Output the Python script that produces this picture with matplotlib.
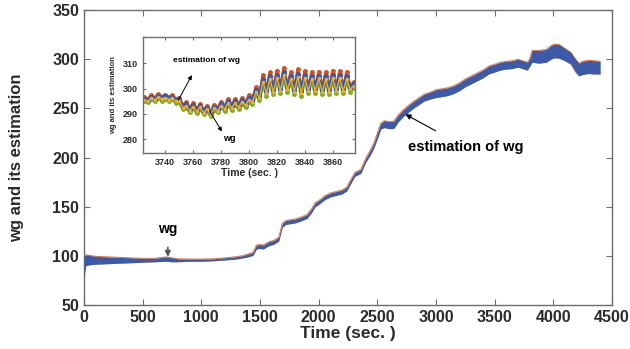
import matplotlib.pyplot as plt
import numpy as np

plt.rcParams['font.family'] = ['Liberation Sans', 'DejaVu Sans']
plt.rcParams['font.weight'] = 'bold'

blue = '#3D5AA8'
red = '#D95319'
yellow = '#EDB120'
green = '#77AC30'
axcol = '#6e6e6e'
txtcol = '#2b2b2b'

# full run: upper and lower edge of the wg / estimation band
t_main = [0, 15, 50, 100, 200, 300, 400, 500, 600, 700, 750, 800, 900, 1000, 1100,
          1200, 1300, 1350, 1400, 1440, 1470, 1500, 1530, 1570, 1620, 1660, 1690,
          1720, 1800, 1860, 1900, 1940, 1970, 2010, 2050, 2100, 2150, 2200, 2240,
          2280, 2310, 2360, 2400, 2440, 2470, 2500, 2530, 2560, 2600, 2640, 2680,
          2720, 2760, 2800, 2850, 2900, 2950, 3000, 3050, 3100, 3150, 3200, 3250,
          3300, 3350, 3400, 3450, 3500, 3550, 3600, 3650, 3700, 3750, 3780, 3800,
          3820, 3880, 3940, 3980, 4010, 4050, 4100, 4150, 4190, 4220, 4250, 4300,
          4350, 4400]
band_lo = [78, 90, 91, 91.5, 92, 92.5, 93, 93.5, 94, 94.5, 94, 94, 94.5, 94.5, 95,
           95.8, 96.8, 97.8, 99, 100.5, 107, 107.5, 107, 110, 112, 115, 129,
           132, 133.5, 136, 138, 144, 150, 153, 157, 160, 161.5, 163, 166,
           175, 181, 184, 195, 202.5, 209.5, 219, 229, 230.5, 229.5, 229.5, 236.5,
           241.5, 245.5, 249.5, 253.5, 257.5, 259.5, 261, 262, 263, 265, 268, 272,
           275, 278, 281, 285, 287, 289, 290, 290.5, 292, 290, 289, 293,
           297, 296, 297, 300, 301.5, 301, 298.5, 295, 287, 283, 284.5, 285.5,
           285, 285]
band_hi = [99, 101, 100.5, 99.5, 99, 98.5, 98, 97.5, 97.5, 99, 98, 97, 96.8, 96.8, 97,
           98, 99.2, 100.2, 102, 103.5, 111, 111.5, 111, 114, 116, 119, 133,
           136, 137.5, 140, 142, 148, 154, 157, 161, 164, 165.5, 167, 170,
           179, 185, 188, 199, 207.5, 214.5, 225, 235, 237.5, 236.5, 237, 243.5,
           248.5, 252.5, 256.5, 260.5, 264.5, 266.5, 269, 270, 271, 273, 276, 280,
           283, 286, 289, 293, 295, 297, 298, 298.5, 300, 298, 297, 301,
           309, 309, 310, 314, 315.5, 315, 311, 307, 300, 296, 298, 299,
           298.5, 298]

# zoomed window 3725-3875 s
t_zoom = [3725 + 2.5 * i for i in range(61)]
wg_zoom = [296.0, 295.5, 296.8, 296.0, 297.2, 296.4, 297.0, 296.2, 296.8, 295.5,
           295.8, 293.0, 293.8, 291.8, 293.5, 291.5, 293.2, 291.0, 292.5, 290.2,
           292.8, 291.8, 294.0, 292.5, 295.0, 293.0, 295.0, 293.2, 295.5, 294.0,
           296.5, 295.5, 299.5, 297.0, 304.0, 299.0, 305.0, 299.5, 305.5, 300.0,
           306.5, 300.5, 305.0, 299.5, 306.0, 299.0, 305.5, 300.0, 305.0, 300.0,
           305.2, 299.5, 305.0, 299.5, 305.5, 300.0, 305.5, 299.8, 305.0, 300.5,
           302.0]
est_red = [296.6, 295.9, 297.4, 296.4, 297.8, 296.8, 297.6, 296.6, 297.4, 295.9,
           296.5, 293.4, 294.6, 292.2, 294.3, 291.9, 294.0, 291.4, 293.3, 290.6,
           293.6, 292.2, 294.8, 292.9, 295.8, 293.4, 295.8, 293.6, 296.3, 294.4,
           297.4, 295.9, 300.6, 297.4, 305.4, 299.4, 306.5, 299.9, 307.2, 300.4,
           308.3, 300.9, 306.6, 299.9, 307.7, 299.4, 307.1, 300.4, 306.6, 300.4,
           306.8, 299.9, 306.7, 299.9, 307.2, 300.4, 307.0, 300.2, 306.6, 300.9,
           302.6]
est_yellow = [295.6, 295.0, 296.3, 295.5, 296.7, 295.9, 296.5, 295.7, 296.3, 295.0,
              295.2, 292.5, 293.2, 291.3, 292.9, 291.0, 292.6, 290.5, 291.9, 289.7,
              292.2, 291.3, 293.3, 292.0, 294.3, 292.4, 294.3, 292.6, 294.8, 293.4,
              295.7, 294.8, 298.6, 296.3, 302.8, 298.2, 303.8, 298.7, 304.4, 299.2,
              305.3, 299.7, 303.9, 298.7, 304.8, 298.2, 304.4, 299.2, 303.9, 299.2,
              304.1, 298.7, 303.9, 298.7, 304.4, 299.2, 304.4, 299.0, 303.9, 299.7,
              301.2]
est_green = [295.2, 294.6, 295.8, 295.0, 296.2, 295.3, 296.0, 295.1, 295.8, 294.4,
             294.6, 291.9, 292.5, 290.6, 292.2, 290.3, 291.9, 289.8, 291.2, 289.0,
             291.5, 290.6, 292.6, 291.2, 293.6, 291.7, 293.6, 291.9, 294.1, 292.6,
             294.9, 294.0, 297.8, 295.4, 301.9, 297.3, 302.9, 297.8, 303.5, 298.3,
             304.4, 298.8, 302.9, 297.8, 303.9, 297.3, 303.5, 298.3, 302.9, 298.3,
             303.2, 297.8, 302.9, 297.8, 303.5, 298.3, 303.5, 298.1, 302.9, 298.8,
             300.3]


def style_axes(ax, size):
    for s in ax.spines.values():
        s.set_color(axcol)
        s.set_linewidth(1.0)
    ax.tick_params(direction='in', top=True, right=True, colors=axcol,
                   labelcolor=txtcol, labelsize=size, length=4)
    for lab in ax.get_xticklabels() + ax.get_yticklabels():
        lab.set_fontweight('bold')


fig = plt.figure(figsize=(6.3, 3.49), dpi=100)
ax = fig.add_axes([0.1333, 0.126, 0.838, 0.845])

# thin coloured rims peeking out from under the blue band
ax.plot(t_main, band_hi, color=red, lw=0.7, alpha=0.8, zorder=1)
ax.plot(t_main, band_lo, color=yellow, lw=0.8, zorder=1)
ax.fill_between(t_main, band_lo, band_hi, color=blue, lw=0, zorder=3)

ax.set_xlim(0, 4500)
ax.set_ylim(50, 350)
ax.set_xticks(np.arange(0, 4501, 500))
ax.set_yticks(np.arange(50, 351, 50))
style_axes(ax, 11.5)
ax.set_xlabel('Time (sec. )', fontsize=12.5, fontweight='bold', color=txtcol, labelpad=1)
ax.set_ylabel('wg and its estimation', fontsize=12, fontweight='bold', color=txtcol, labelpad=20)

ax.annotate('wg', xy=(715, 99), xytext=(715, 127), ha='center', va='center',
            fontsize=10, fontweight='bold', color='black',
            arrowprops=dict(arrowstyle='-|>', color='#555555', lw=1.2,
                            mutation_scale=8, shrinkB=0, shrinkA=6))
ax.annotate('estimation of wg', xy=(2740, 244), xytext=(3254, 210.5), ha='center',
            va='center', fontsize=10.5, fontweight='bold', color='black',
            arrowprops=dict(arrowstyle='-|>', color='black', lw=0.8,
                            mutation_scale=8, shrinkA=10, shrinkB=0))

# inset: zoom on the oscillating part
ins = fig.add_axes([0.227, 0.5616, 0.3365, 0.3324])
ins.plot(t_zoom, est_red, color=red, lw=2.2, marker='o', ms=2.5)
ins.plot(t_zoom, est_green, color=green, lw=2.2, marker='o', ms=2.5)
ins.plot(t_zoom, wg_zoom, color=blue, lw=2.4, marker='o', ms=2.8)
ins.plot(t_zoom, est_yellow, color=yellow, lw=1.0, marker='o', ms=1.5)
ins.set_xlim(3724, 3876)
ins.set_ylim(274.5, 320.5)
ins.set_xticks(np.arange(3740, 3861, 20))
ins.set_yticks([280, 290, 300, 310])
style_axes(ins, 6.5)
ins.tick_params(length=2.5)
ins.set_xlabel('Time (sec. )', fontsize=7.5, fontweight='bold', color=txtcol, labelpad=1)
ins.set_ylabel('wg and its estimation', fontsize=5.5, fontweight='bold', color=txtcol, labelpad=4)

ins.text(3769.5, 311, 'estimation of wg', ha='center', va='center',
         fontsize=6, fontweight='bold', color='black')
ins.annotate('', xy=(3759, 305.4), xytext=(3749.4, 295.5),
             arrowprops=dict(arrowstyle='-|>', color='black', lw=0.7,
                             mutation_scale=6, shrinkA=0, shrinkB=0))
ins.text(3786, 280.1, 'wg', ha='center', va='center',
         fontsize=6.5, fontweight='bold', color='black')
ins.annotate('', xy=(3780.6, 283), xytext=(3772, 290.9),
             arrowprops=dict(arrowstyle='-|>', color='black', lw=0.7,
                             mutation_scale=6, shrinkA=0, shrinkB=0))

fig.savefig('out.png', dpi=100)
